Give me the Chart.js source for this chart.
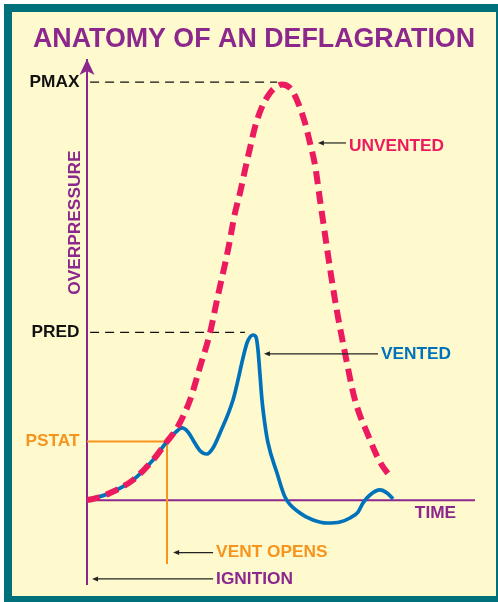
<!DOCTYPE html>
<html>
<head>
<meta charset="utf-8">
<script src="https://cdn.jsdelivr.net/npm/chart.js@4.4.1/dist/chart.umd.min.js"></script>
<style>
  html, body { margin:0; padding:0; background:#ffffff; width:498px; height:602px; overflow:hidden; }
  #frame { position:absolute; left:4px; top:4px; width:494px; height:598px; background:#00717B; }
  #inner { position:absolute; left:8px; top:8px; width:484px; height:584px; background:#FFFACD; }
  #wrap { position:absolute; left:0; top:0; width:498px; height:602px; }
</style>
</head>
<body>
<div id="frame"><div id="inner"></div></div>
<div id="wrap"><canvas id="c" width="498" height="602"></canvas></div>
<script>
// ---------- DATA ----------
const unventedTime = [0, 2.58, 5.93, 11.86, 17.01, 20.62, 23.2, 26.55, 29.12, 31.7, 33.5, 36.34, 38.14, 39.43, 40.72, 42.01, 43.3, 45.1, 47.16, 48.71, 50.26, 52.32, 53.87, 56.19, 57.47, 58.76, 60.05, 63.92, 66.49, 69.07, 72.42, 75.52, 78.61];
const unventedPressure = [0, 0.52, 1.71, 4.81, 9.58, 13.99, 17.2, 23.9, 31.77, 39.88, 47.75, 59.68, 68.5, 73.27, 78.76, 84.0, 89.02, 93.8, 97.13, 98.56, 99.16, 98.32, 95.93, 89.97, 85.2, 79.95, 71.6, 47.75, 35.11, 23.89, 15.55, 9.1, 5.05];

const ventedTime = [0, 5.93, 11.86, 17.01, 20.62, 22.94, 24.48, 26.03, 27.32, 29.12, 30.93, 32.47, 34.28, 37.63, 41.24, 42.01, 42.78, 43.56, 44.07, 44.59, 45.1, 45.88, 46.65, 48.97, 51.03, 54.9, 58.25, 61.86, 65.21, 67.78, 69.85, 71.13, 72.94, 75.52, 77.32, 78.87];
const ventedPressure = [0, 1.71, 4.81, 9.58, 13.99, 16.27, 17.22, 16.27, 14.35, 11.8, 11.01, 12.44, 16.02, 23.89, 37.5, 38.92, 39.4, 38.92, 35.82, 29.86, 23.89, 17.93, 13.64, 6.48, 0.75, -3.07, -4.74, -5.45, -5.21, -4.26, -2.83, -0.68, 1.23, 2.43, 1.71, 0.28];

const yTickValues = [14, 40, 99.7];
const yTickLabels = ['PSTAT', 'PRED', 'PMAX'];
const PSTAT = 14, PRED = 40, PMAX = 99.7;
const VENT_OPEN_TIME = 20.62;
const TIME_END = 100;
const PMAX_TIME = 49.0, PRED_TIME = 40.7;

// annotation arrows
const arrowTip = [59.5, 45.6, 22.2, 1.3];
const arrowTail = [66.75, 75.0, 32.5, 32.5];
const arrowLevel = [85.2, 34.9, -12.5, -18.8];
const arrowText = ['UNVENTED', 'VENTED', 'VENT OPENS', 'IGNITION'];

// ---------- STYLE ----------
const PURPLE = '#8C278E', PINK = '#EC1A5E', BLUE = '#0072BC', ORANGE = '#F7941D', BLACK = '#111111';
const FONT = "'Liberation Sans', Arial, Helvetica, sans-serif";
const arrowColors = [PINK, BLUE, ORANGE, PURPLE];
const textDy = [3, 0.5, 0, 0];

const pts = (xs, ys) => xs.map((x, i) => ({x, y: ys[i]}));

const annot = {
  id: 'annot',
  afterDatasetsDraw(chart) {
    const {ctx, scales: {x, y}, chartArea} = chart;
    ctx.save();
    // y-axis arrowhead
    const ax = x.getPixelForValue(0), top = chartArea.top;
    ctx.fillStyle = PURPLE;
    ctx.beginPath();
    ctx.moveTo(ax, top - 1);
    ctx.lineTo(ax - 7.5, top + 15);
    ctx.lineTo(ax, top + 11);
    ctx.lineTo(ax + 7.5, top + 15);
    ctx.closePath();
    ctx.fill();

    // annotation arrows and labels
    ctx.font = 'bold 17.3px ' + FONT;
    ctx.textBaseline = 'middle';
    ctx.textAlign = 'left';
    for (let i = 0; i < arrowText.length; i++) {
      const tx = x.getPixelForValue(arrowTip[i]);
      const ex = x.getPixelForValue(arrowTail[i]);
      const py = y.getPixelForValue(arrowLevel[i]);
      ctx.strokeStyle = '#222';
      ctx.lineWidth = 1.2;
      ctx.beginPath();
      ctx.moveTo(tx + 3, py);
      ctx.lineTo(ex, py);
      ctx.stroke();
      ctx.fillStyle = '#222';
      ctx.beginPath();
      ctx.moveTo(tx, py);
      ctx.lineTo(tx + 6, py - 2.5);
      ctx.lineTo(tx + 6, py + 2.5);
      ctx.closePath();
      ctx.fill();
      ctx.fillStyle = arrowColors[i];
      ctx.fillText(arrowText[i], ex + 3, py + textDy[i]);
    }
    // TIME label
    ctx.fillStyle = PURPLE;
    ctx.fillText('TIME', x.getPixelForValue(84.5), y.getPixelForValue(-3.05));

    // OVERPRESSURE label
    ctx.save();
    ctx.translate(chartArea.left - 12, y.getPixelForValue(66.2));
    ctx.rotate(-Math.PI / 2);
    ctx.textAlign = 'center';
    ctx.fillStyle = PURPLE;
    ctx.fillText('OVERPRESSURE', 0, 0);
    ctx.restore();
    ctx.restore();
  }
};

new Chart(document.getElementById('c'), {
  type: 'line',
  data: {
    datasets: [
      { label: 'Unvented', data: pts(unventedTime, unventedPressure), borderColor: PINK, borderWidth: 6, borderDash: [13, 7], borderCapStyle: 'butt', cubicInterpolationMode: 'monotone', pointRadius: 0, order: 0 },
      { label: 'Vented', data: pts(ventedTime, ventedPressure), borderColor: BLUE, borderWidth: 3.7, cubicInterpolationMode: 'monotone', pointRadius: 0, order: 1 },
      { label: 'Pstat', data: [{x: 0, y: PSTAT}, {x: VENT_OPEN_TIME, y: PSTAT}, {x: VENT_OPEN_TIME, y: -15.2}], borderColor: ORANGE, borderWidth: 2, tension: 0, pointRadius: 0, order: 3 },
      { label: 'Pmax', data: [{x: 0.8, y: PMAX}, {x: PMAX_TIME, y: PMAX}], borderColor: BLACK, borderWidth: 1.3, borderDash: [9, 6], tension: 0, pointRadius: 0, order: 3 },
      { label: 'Pred', data: [{x: 0.8, y: PRED}, {x: PRED_TIME, y: PRED}], borderColor: BLACK, borderWidth: 1.3, borderDash: [9, 6], tension: 0, pointRadius: 0, order: 3 },
      { label: 'Time axis', data: [{x: 0, y: 0}, {x: TIME_END, y: 0}], borderColor: PURPLE, borderWidth: 2, tension: 0, pointRadius: 0, order: 4 }
    ]
  },
  options: {
    responsive: false,
    animation: false,
    events: [],
    layout: { padding: { left: 20, right: 10, top: 0, bottom: 18 } },
    plugins: {
      legend: { display: false },
      tooltip: { enabled: false },
      title: {
        display: true,
        text: 'ANATOMY OF AN DEFLAGRATION',
        color: PURPLE,
        font: { family: FONT, size: 26.8, weight: 'bold', lineHeight: 1.2 },
        padding: { top: 23.5, bottom: 4.3 }
      }
    },
    scales: {
      x: { type: 'linear', min: 0, max: 103.35, display: false },
      y: {
        type: 'linear', min: -20, max: 105,
        afterBuildTicks: s => { s.ticks = yTickValues.map(v => ({value: v})); },
        afterFit: s => { s.width = 67; s.paddingTop = 0; s.paddingBottom = 0; },
        grid: { display: false, drawTicks: false },
        border: { display: true, color: PURPLE, width: 2 },
        ticks: {
          padding: 7.5,
          autoSkip: false,
          font: { family: FONT, size: 17.3, weight: 'bold' },
          color: c => (c.index === 0 ? ORANGE : BLACK),
          callback: (v, i) => yTickLabels[i]
        }
      }
    }
  },
  plugins: [annot]
});
</script>
</body>
</html>
